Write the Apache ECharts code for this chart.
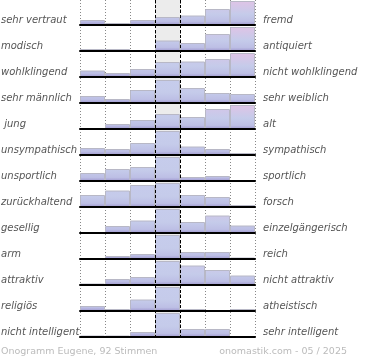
<!DOCTYPE html>
<html><head><meta charset="utf-8">
<script src="https://cdn.jsdelivr.net/npm/echarts@6/dist/echarts.min.js"></script>
<style>html,body{margin:0;padding:0;background:#fff}#c{width:370px;height:360px}</style>
</head><body><div id="c"></div>
<script>
// ---- data ----
const categories = ['1', '2', '3', '4', '5', '6', '7'];
const leftLabels = ['sehr vertraut', 'modisch', 'wohlklingend', 'sehr männlich', ' jung', 'unsympathisch', 'unsportlich', 'zurückhaltend', 'gesellig', 'arm', 'attraktiv', 'religiös', 'nicht intelligent'];
const rightLabels = ['fremd', 'antiquiert', 'nicht wohlklingend', 'sehr weiblich', 'alt', 'sympathisch', 'sportlich', 'forsch', 'einzelgängerisch', 'reich', 'nicht attraktiv', 'atheistisch', 'sehr intelligent'];
const vertraut = [5, 2, 5, 8, 9.5, 16, 24];
const modisch = [2, 2, 1, 10.5, 8, 17, 24];
const wohlklingend = [6.5, 4, 8, 15, 15.5, 18, 24];
const maennlich = [7, 4, 13, 23, 15, 10, 9];
const jung = [1, 5, 9, 15, 12, 20, 24];
const unsympathisch = [7, 6, 12, 24, 8.5, 6, 2];
const unsportlich = [8, 12, 14, 24, 4, 5, 1];
const zurueckhaltend = [12, 16.5, 22, 24, 12, 10, 2];
const gesellig = [0.5, 7, 12.5, 24, 11, 17.5, 7.5];
const arm = [1, 3, 5, 24, 7, 7, 1.5];
const attraktiv = [1.5, 6, 8, 24, 19.5, 15, 9.5];
const religioes = [5, 2, 11.5, 24, 2, 0.5, 2];
const intelligent = [1.5, 1.5, 5, 24, 8, 8, 1];
const rows = [vertraut, modisch, wohlklingend, maennlich, jung, unsympathisch, unsportlich, zurueckhaltend, gesellig, arm, attraktiv, religioes, intelligent];
const footerLeft = 'Onogramm Eugene, 92 Stimmen';
const footerRight = 'onomastik.com - 05 / 2025';

// ---- layout / style ----
const L = 80, W = 175, PITCH = 26, TOP0 = 1, H = 24, YMAX = 24;
const topColors = ['#c6c8ec', '#c6c9ec', '#c6caec', '#c6ccec', '#ccc8ea', '#d6c5e8', '#dfc4e6'];
function grad(rowTop, col) {
  return {
    type: 'linear', x: 0, y: rowTop, x2: 0, y2: rowTop + H, global: true,
    colorStops: [
      { offset: 0, color: topColors[col] },
      { offset: 0.55, color: '#c5cbea' },
      { offset: 0.85, color: '#bdbfe5' },
      { offset: 1, color: '#a099cf' }
    ]
  };
}
const labelFont = 'italic 10px "DejaVu Sans"';

const grids = [], xAxes = [], yAxes = [], series = [], graphics = [];
rows.forEach((vals, k) => {
  const top = TOP0 + PITCH * k;
  grids.push({ left: L, top: top, width: W, height: H });
  xAxes.push({
    gridIndex: k, type: 'category', data: categories, z: 5,
    axisLine: { show: true, lineStyle: { color: '#000', width: 2 } },
    axisTick: { show: false }, axisLabel: { show: false }, splitLine: { show: false }
  });
  yAxes.push({ gridIndex: k, type: 'value', min: 0, max: YMAX, show: false, splitLine: { show: false } });
  series.push({
    type: 'bar', xAxisIndex: k, yAxisIndex: k, barCategoryGap: '0%', silent: true,
    itemStyle: { borderColor: '#b8b8c6', borderWidth: 1 },
    data: vals.map((v, i) => ({ value: v, itemStyle: { color: grad(top, i) } }))
  });
  const cy = top + H - 4.5;
  graphics.push({ type: 'text', x: 1, y: cy, style: { text: leftLabels[k], fill: '#555', font: labelFont, verticalAlign: 'middle', align: 'left' } });
  graphics.push({ type: 'text', x: 263, y: cy, style: { text: rightLabels[k], fill: '#555', font: labelFont, verticalAlign: 'middle', align: 'left' } });
});
graphics.push({ type: 'text', x: 1, y: 352, style: { text: footerLeft, fill: '#bbb', font: '9.5px "DejaVu Sans"', verticalAlign: 'middle', align: 'left' } });
graphics.push({ type: 'text', x: 347, y: 352, style: { text: footerRight, fill: '#bbb', font: '9.5px "DejaVu Sans"', verticalAlign: 'middle', align: 'right' } });

// background grid: dotted separators + highlighted middle column
const bgIdx = rows.length;
const fullH = TOP0 + PITCH * (rows.length - 1) + H;
grids.push({ left: L, top: 0, width: W, height: fullH });
xAxes.push({
  gridIndex: bgIdx, type: 'category', data: categories, z: -1,
  axisLine: { show: false }, axisTick: { show: false }, axisLabel: { show: false },
  splitLine: { show: true, lineStyle: { color: '#888', type: [1, 2], width: 1 } },
  splitArea: { show: true, areaStyle: { color: ['rgba(0,0,0,0)', 'rgba(0,0,0,0)', 'rgba(0,0,0,0)', '#ececec', 'rgba(0,0,0,0)', 'rgba(0,0,0,0)', 'rgba(0,0,0,0)'] } }
});
yAxes.push({ gridIndex: bgIdx, type: 'value', min: 0, max: 1, show: false, splitLine: { show: false } });

// dashed borders of the middle column
const dIdx = bgIdx + 1;
grids.push({ left: L + W * 3 / 7, top: 0, width: W / 7, height: fullH });
xAxes.push({
  gridIndex: dIdx, type: 'value', min: 0, max: 1, interval: 1, z: 10,
  axisLine: { show: false }, axisTick: { show: false }, axisLabel: { show: false },
  splitLine: { show: true, lineStyle: { color: '#000', type: [3, 2], width: 1 } }
});
yAxes.push({ gridIndex: dIdx, type: 'value', min: 0, max: 1, show: false, splitLine: { show: false } });

const chart = echarts.init(document.getElementById('c'), null, { renderer: 'canvas' });
chart.setOption({
  animation: false,
  grid: grids, xAxis: xAxes, yAxis: yAxes, series: series, graphic: graphics
});
</script></body></html>
